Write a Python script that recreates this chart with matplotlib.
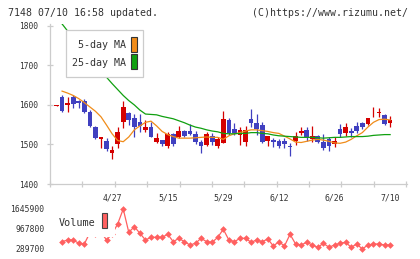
import numpy as np
import matplotlib
matplotlib.use("Agg")
import matplotlib.pyplot as plt
from matplotlib.patches import Rectangle

# ---------------- data ----------------
opens = [1598, 1621, 1601, 1619, 1611, 1611, 1583, 1545, 1513, 1510,
         1479, 1501, 1558, 1579, 1566, 1556, 1537, 1545, 1507, 1511,
         1497, 1527, 1520, 1534, 1534, 1527, 1505, 1499, 1522, 1497,
         1503, 1562, 1539, 1524, 1507, 1565, 1555, 1549, 1510, 1511,
         1509, 1509, 1495, 1510, 1528, 1537, 1514, 1522, 1507, 1514,
         1501, 1538, 1530, 1534, 1547, 1555, 1552, 1579, 1579, 1575,
         1555]
highs = [1599, 1626, 1619, 1625, 1613, 1616, 1587, 1548, 1518, 1516,
         1496, 1543, 1610, 1581, 1576, 1576, 1562, 1558, 1528, 1511,
         1532, 1528, 1547, 1537, 1551, 1534, 1511, 1532, 1528, 1520,
         1585, 1566, 1555, 1545, 1546, 1590, 1577, 1556, 1522, 1516,
         1513, 1516, 1503, 1532, 1543, 1545, 1547, 1524, 1527, 1518,
         1520, 1552, 1555, 1541, 1558, 1558, 1566, 1594, 1592, 1577,
         1572]
lows = [1597, 1582, 1582, 1592, 1592, 1580, 1544, 1513, 1490, 1484,
        1464, 1492, 1541, 1550, 1520, 1532, 1532, 1520, 1503, 1495,
        1490, 1497, 1516, 1520, 1524, 1501, 1478, 1495, 1499, 1490,
        1503, 1524, 1524, 1499, 1497, 1545, 1524, 1503, 1497, 1494,
        1492, 1492, 1471, 1499, 1524, 1510, 1507, 1503, 1486, 1484,
        1494, 1518, 1521, 1518, 1530, 1539, 1549, 1569, 1569, 1549,
        1545]
closes = [1598, 1585, 1605, 1602, 1604, 1582, 1548, 1516, 1518, 1489,
          1486, 1531, 1594, 1562, 1545, 1548, 1545, 1520, 1516, 1501,
          1527, 1501, 1534, 1522, 1527, 1506, 1497, 1527, 1505, 1513,
          1564, 1530, 1528, 1537, 1537, 1554, 1538, 1507, 1522, 1507,
          1497, 1500, 1493, 1522, 1534, 1518, 1522, 1505, 1490, 1495,
          1510, 1527, 1545, 1530, 1534, 1545, 1566, 1580, 1583, 1551,
          1562]
ma5 = [np.nan, 1635, 1630, 1624, 1616, 1606, 1595, 1584, 1570, 1549,
       1527, 1510, 1507, 1519, 1537, 1547, 1556, 1559, 1547, 1533,
       1525, 1520, 1516, 1516, 1516, 1517, 1518, 1519, 1518, 1518,
       1513, 1522, 1527, 1530, 1534, 1537, 1537, 1535, 1533, 1530,
       1528, 1521, 1514, 1506, 1505, 1508, 1511, 1513, 1511, 1508,
       1504, 1503, 1506, 1513, 1522, 1530, 1544, 1556, 1563, 1564,
       1562]
ma25 = [np.nan, 1805, 1787, 1768, 1752, 1736, 1719, 1704, 1687, 1670,
        1654, 1639, 1624, 1611, 1600, 1587, 1577, 1576, 1575, 1571,
        1568, 1565, 1560, 1555, 1549, 1544, 1541, 1537, 1534, 1532,
        1528, 1527, 1527, 1528, 1528, 1530, 1530, 1528, 1527, 1524,
        1522, 1521, 1520, 1519, 1518, 1518, 1518, 1517, 1516, 1517,
        1518, 1518, 1519, 1520, 1520, 1520, 1521, 1523, 1524, 1525,
        1525]
volume = [np.nan, 537200, 594800, 594800, 482900, 459200, 842000, 800000,
          866000, 594800, 800000, 1137300, 1645900, 855900, 1045800, 822000,
          594800, 686400, 686400, 686400, 788100, 537200, 652500, 537200,
          425300, 482900, 652500, 537200, 516900, 686400, 957600, 594800,
          537200, 652500, 652500, 516900, 594800, 537200, 628800, 391400,
          537200, 391400, 788100, 459200, 425300, 516900, 425300, 347300,
          482900, 347300, 425300, 482900, 516900, 347300, 459200, 289700,
          425300, 459200, 459200, 425300, 425300]
date_labels = ["4/27", "5/15", "5/29", "6/12", "6/26", "7/10"]
date_index = [10, 20, 30, 40, 50, 60]
price_ticks = [1400, 1500, 1600, 1700, 1800]

# ---------------- styling ----------------
W, H = 420, 259
MONO = "DejaVu Sans Mono"
TXT = "#333333"
RED = "#d40000"
BLUE = "#4040c0"
ORANGE = "#f08c1a"
GREEN = "#10a010"
VOLC = "#ff6060"
AXC = "#cccccc"

fig = plt.figure(figsize=(W / 100, H / 100), dpi=100)
fig.patch.set_facecolor("white")


def fx(x):
    return x / W


def fy(y):
    return 1 - y / H


# ---------------- main price axes ----------------
ax = fig.add_axes([fx(50), fy(184), (406.8 - 50) / W, (184 - 24) / H])
o = np.array(opens, float)
c = np.array(closes, float)
hi = np.array(highs, float)
lo = np.array(lows, float)
x = np.arange(len(o))
cols = np.where(c >= o, RED, BLUE)
ax.vlines(x, lo, hi, colors=cols, lw=0.9, zorder=2)
ax.bar(x, np.maximum(np.abs(c - o), 1.6), bottom=np.minimum(o, c),
       width=0.85, color=cols, lw=0, zorder=3)
ax.plot(x, ma5, color=ORANGE, lw=0.9, zorder=4)
ax.plot(x, ma25, color=GREEN, lw=0.9, zorder=4)

xl = (-1.17, 63.0)
ax.set_xlim(*xl)
ax.set_ylim(1400, 1400 + 160 * 2.53)
for s in ("top", "right"):
    ax.spines[s].set_visible(False)
for s in ("left", "bottom"):
    ax.spines[s].set_color(AXC)
    ax.spines[s].set_linewidth(0.9)
ax.set_yticks(price_ticks)
ax.set_yticklabels([str(v) for v in price_ticks])
ax.set_xticks(np.linspace(xl[0], 62.9, 12))
ax.set_xticklabels([])
ax.set_xticks(date_index, minor=True)
ax.set_xticklabels(date_labels, minor=True)
ax.tick_params(axis="both", which="major", direction="inout", length=5,
               color=AXC, width=0.9)
ax.tick_params(axis="y", pad=5.9, labelsize=5.7, labelcolor=TXT)
ax.tick_params(axis="x", which="minor", length=0, pad=6.8, labelsize=5.9,
               labelcolor=TXT)
for t in ax.get_yticklabels() + ax.get_xticklabels(minor=True):
    t.set_family(MONO)

# ---------------- volume axes ----------------
vax = fig.add_axes([fx(50), fy(253), (406.8 - 50) / W, 48 / H])
v = np.array(volume, float)
vmin, vmax = np.nanmin(v), np.nanmax(v)
vmid = (vmin + vmax) / 2
step = (vmax - vmin) / 40.0
vax.plot(x, v, color=VOLC, lw=0.9, marker="D", ms=3.4, mew=0, zorder=2)
vax.set_xlim(*xl)
vax.set_ylim(vmin - 4 * step, vmax + 4 * step)
for s in vax.spines.values():
    s.set_visible(False)
vax.set_xticks([])
vax.set_yticks([vmin, vmid, vmax])
vax.set_yticklabels([f"{int(round(t))}" for t in (vmin, vmid, vmax)])
vax.tick_params(axis="y", length=0, pad=4.1, labelsize=5.8, labelcolor=TXT)
for t in vax.get_yticklabels():
    t.set_family(MONO)
vax.patch.set_alpha(0)

# ---------------- header ----------------
fig.text(fx(8), fy(16), "7148 07/10 16:58 updated.", family=MONO,
         fontsize=7.1, color=TXT, va="baseline", ha="left")
fig.text(fx(408.5), fy(16), "(C)https://www.rizumu.net/", family=MONO,
         fontsize=7.1, color=TXT, va="baseline", ha="right")

# ---------------- price legend ----------------
fig.add_artist(Rectangle((fx(65.7), fy(77.3)), 77.6 / W, 47.3 / H,
                         transform=fig.transFigure, facecolor="white",
                         edgecolor=AXC, lw=0.9, zorder=5))
fig.text(fx(125.5), fy(48), "5-day MA", family=MONO, fontsize=7.2,
         color=TXT, ha="right", va="baseline", zorder=6)
fig.text(fx(125.5), fy(66.3), "25-day MA", family=MONO, fontsize=7.2,
         color=TXT, ha="right", va="baseline", zorder=6)
fig.add_artist(Rectangle((fx(131), fy(52.3)), 5.7 / W, 15 / H,
                         transform=fig.transFigure, facecolor=ORANGE,
                         edgecolor="#333333", lw=0.8, zorder=6))
fig.add_artist(Rectangle((fx(131), fy(69.3)), 5.7 / W, 15 / H,
                         transform=fig.transFigure, facecolor=GREEN,
                         edgecolor="#333333", lw=0.8, zorder=6))

# ---------------- volume legend ----------------
fig.add_artist(Rectangle((fx(56), fy(236.5)), 58.5 / W, 25.5 / H,
                         transform=fig.transFigure, facecolor="white",
                         edgecolor="none", zorder=5))
fig.text(fx(58.3), fy(225.8), "Volume", family=MONO, fontsize=7.3,
         color=TXT, ha="left", va="baseline", zorder=6)
fig.add_artist(Rectangle((fx(101.7), fy(228.3)), 5.6 / W, 15 / H,
                         transform=fig.transFigure, facecolor=VOLC,
                         edgecolor="#444444", lw=0.8, zorder=6))

fig.savefig("out.png", dpi=100, facecolor="white")
